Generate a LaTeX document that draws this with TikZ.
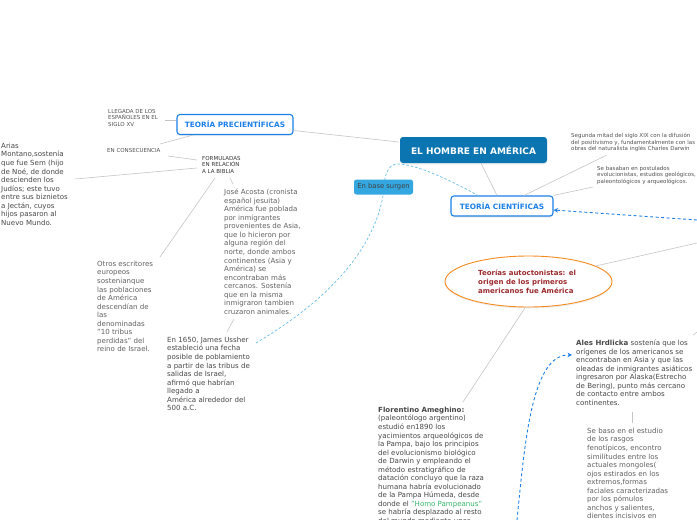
\documentclass[tikz,border=0pt]{standalone}
\usepackage{fontspec}
\setmainfont{DejaVu Sans}
\usetikzlibrary{shapes.geometric,arrows.meta,shadows}
\definecolor{maincol}{HTML}{0B75B1}
\definecolor{boxblue}{HTML}{1C80E8}
\definecolor{basecol}{HTML}{35A7E0}
\definecolor{linkgray}{HTML}{C4C4C4}
\definecolor{redtxt}{HTML}{9C2A2E}
\definecolor{orangeb}{HTML}{F58A1F}
\definecolor{greentxt}{HTML}{35B56A}
\tikzset{
  softshadow/.style={drop shadow={opacity=0.13,shadow xshift=0pt,shadow yshift=-1.5pt}},
  conn/.style={draw=linkgray,line width=0.6pt},
  dashblue/.style={draw=boxblue,line width=0.9pt,dash pattern=on 3pt off 2.5pt,-{Stealth[length=4.5pt,width=4.5pt]}},
  dashlight/.style={draw=basecol!75,line width=0.7pt,dash pattern=on 2.5pt off 2pt},
  body/.style={anchor=north west,inner sep=0pt,align=left,text=black!72,font=\fontsize{7.05}{8.55}\selectfont},
  bodygray/.style={body,text=black!62},
  tiny/.style={anchor=north west,inner sep=0pt,align=left,text=black!68,font=\fontsize{5.5}{6.6}\selectfont},
  topicbox/.style={draw=boxblue,line width=1.1pt,fill=white,rounded corners=3pt,text=boxblue,softshadow,
    font=\fontsize{7.35}{9}\bfseries\selectfont,inner sep=0pt,minimum height=20pt},
}
\begin{document}
\begin{tikzpicture}[x=1pt,y=-1pt]
\useasboundingbox (0,0) rectangle (697,520);
\clip (0,0) rectangle (697,520);
% free ends and attachment points
\coordinate (rightA) at (697,220);
\coordinate (rightB) at (697,243);
\coordinate (rightC) at (697,332);
\coordinate (lowC) at (517,520);
\coordinate (tLlegada) at (165,120);
\coordinate (tConsA) at (160,144);
\coordinate (tConsB) at (168,156);
\coordinate (tFormA) at (197,160);
\coordinate (tFormB) at (197,168);
\coordinate (tFormC) at (215,178);
\coordinate (tFormD) at (230,178);
\coordinate (tArias) at (75,179);
\coordinate (tOtros) at (160,257);
\coordinate (tJoseA) at (233,184);
\coordinate (tJoseB) at (234,319);
\coordinate (tJames) at (227,332);
\coordinate (tJamesC) at (256,343);
\coordinate (tSeg) at (607,155);
\coordinate (tBas) at (593,187);
\coordinate (tFlor) at (463,402);
\coordinate (tAles) at (572,355);
\coordinate (tAlesB) at (632,412);
\coordinate (tBaso) at (632,423);
\coordinate (tRightC) at (693,335);

% boxes
\node[fill=maincol,rounded corners=3pt,softshadow,minimum width=147pt,minimum height=26pt,inner sep=0pt,text=white,font=\fontsize{9}{10}\bfseries\selectfont] (main) at (473.5,150) {EL HOMBRE EN AMÉRICA};
\node[topicbox,minimum width=116pt] (prec) at (235,124.5) {TEORÍA PRECIENTÍFICAS};
\node[topicbox,minimum width=102pt] (cient) at (502,206) {TEORÍA CIENTÍFICAS};

% connectors
\draw[conn] ([yshift=-6pt]prec.east) -- ([xshift=-1pt,yshift=8pt]main.west);
\draw[conn] (main.south -| 481,0) -- (cient.north -| 497,0);
\draw[conn] (cient.north -| 524,0) -- (tSeg);
\draw[conn] (cient.north east) -- (tBas);
\draw[conn] (prec.west |- tLlegada) -- (tLlegada);
\draw[conn] (prec.south -| 193,0) -- (tConsA);
\draw[conn] (tConsB) -- (tFormA);
\draw[conn] (tFormB) -- (tArias);
\draw[conn] (tFormC) -- (tOtros);
\draw[conn] (tFormD) -- (tJoseA);
\draw[conn] (tJoseB) -- (tJames);
\draw[conn] (tAlesB) -- (tBaso);
\draw[conn] (tRightC) -- (rightC);

% light dashed curve
\draw[dashlight] (tJamesC) .. controls (320,305) and (382,250) .. (385,178)
  .. controls (388,165) and (395,163) .. (400,164)
  .. controls (420,166) and (450,180) .. (cient.north -| 478,0);

\node[fill=basecol,rounded corners=2.5pt,minimum width=59pt,minimum height=15pt,inner sep=0pt,text=black!75,font=\fontsize{6.8}{8}\selectfont] (base) at (383.5,187) {En base surgen};

% ellipse
\node[ellipse,draw=orangeb,line width=0.9pt,fill=white,softshadow,minimum width=167pt,minimum height=51pt,inner sep=0pt] (auto) at (528.5,281.5) {};
\node[anchor=north west,inner sep=0pt,align=left,text=redtxt,font=\fontsize{7.0}{8.6}\bfseries\selectfont] (autoT) at (478,270) {Teorías autoctonistas: el\\origen de los primeros\\americanos fue América};
\draw[conn] (auto.13) -- (rightB);
\draw[conn] (auto.-97) -- (tFlor);

% blue dashed arrows
\draw[dashblue] (rightA) -- (cient.east |- 0,210);
\draw[dashblue] (lowC) .. controls (525,440) and (532,354) .. (tAles);

% texts
\node[tiny] (llegada) at (108,109) {LLEGADA DE LOS\\ESPAÑOLES EN EL\\SIGLO XV};
\node[tiny] (cons) at (107,148) {EN CONSECUENCIA};
\node[tiny,text=black!80] (form) at (202,156) {FORMULADAS\\EN RELACIÓN\\A LA BIBLIA};
\node[tiny] (seg) at (571,133) {Segunda mitad del siglo XIX con la difusión\\del positivismo y, fundamentalmente con las\\obras del naturalista inglés Charles Darwin};
\node[tiny] (bas) at (597,166) {Se basaban en postulados\\evolucionistas, estudios geológicos,\\paleontológicos y arqueológicos.};
\node[body] (arias) at (1,142.8) {Arias\\Montano,sostenía\\que fue Sem (hijo\\de Noé, de donde\\descienden los\\Judíos; este tuvo\\entre sus biznietos\\a Jectán, cuyos\\hijos pasaron al\\Nuevo Mundo.};
\node[bodygray] (otros) at (97,260.8) {Otros escritores\\europeos\\sostenianque\\las poblaciones\\de América\\descendían de\\las\\denominadas\\"10 tribus\\perdidas" del\\reino de Israel.};
\node[bodygray] (jose) at (224,188.8) {José Acosta (cronista\\español jesuita)\\América fue poblada\\por inmigrantes\\provenientes de Asia,\\que lo hicieron por\\alguna región del\\norte, donde ambos\\continentes (Asia y\\América) se\\encontraban más\\cercanos. Sostenía\\que en la misma\\inmigraron tambien\\cruzaron animales.};
\node[body] (james) at (167,336.8) {En 1650, James Ussher\\estableció una fecha\\posible de poblamiento\\a partir de las tribus de\\salidas de Israel,\\afirmó que habrían\\llegado a\\América alrededor del\\500 a.C.};
\node[body] (flor) at (378,406.8) {\textbf{Florentino Ameghino:}\\(paleontólogo argentino)\\estudió en1890 los\\yacimientos arqueológicos de\\la Pampa, bajo los principios\\del evolucionismo biológico\\de Darwin y empleando el\\método estratigráfico de\\datación concluyo que la raza\\humana habría evolucionado\\de la Pampa Húmeda, desde\\donde el \textcolor{greentxt}{"Homo Pampeanus"}\\se habría desplazado al resto\\del mundo mediante unas};
\node[body] (ales) at (576,339.8) {\textbf{Ales Hrdlicka} sostenía que los\\orígenes de los americanos se\\encontraban en Asia y que las\\oleadas de inmigrantes asiáticos\\ingresaron por Alaska(Estrecho\\de Bering), punto más cercano\\de contacto entre ambos\\continentes.};
\node[bodygray] (baso) at (587,427.8) {Se baso en el estudio\\de los rasgos\\fenotípicos, encontro\\similitudes entre los\\actuales mongoles(\\ojos estirados en los\\extremos,formas\\faciales caracterizadas\\por los pómulos\\anchos y salientes,\\dientes incisivos en};
\end{tikzpicture}
\end{document}
